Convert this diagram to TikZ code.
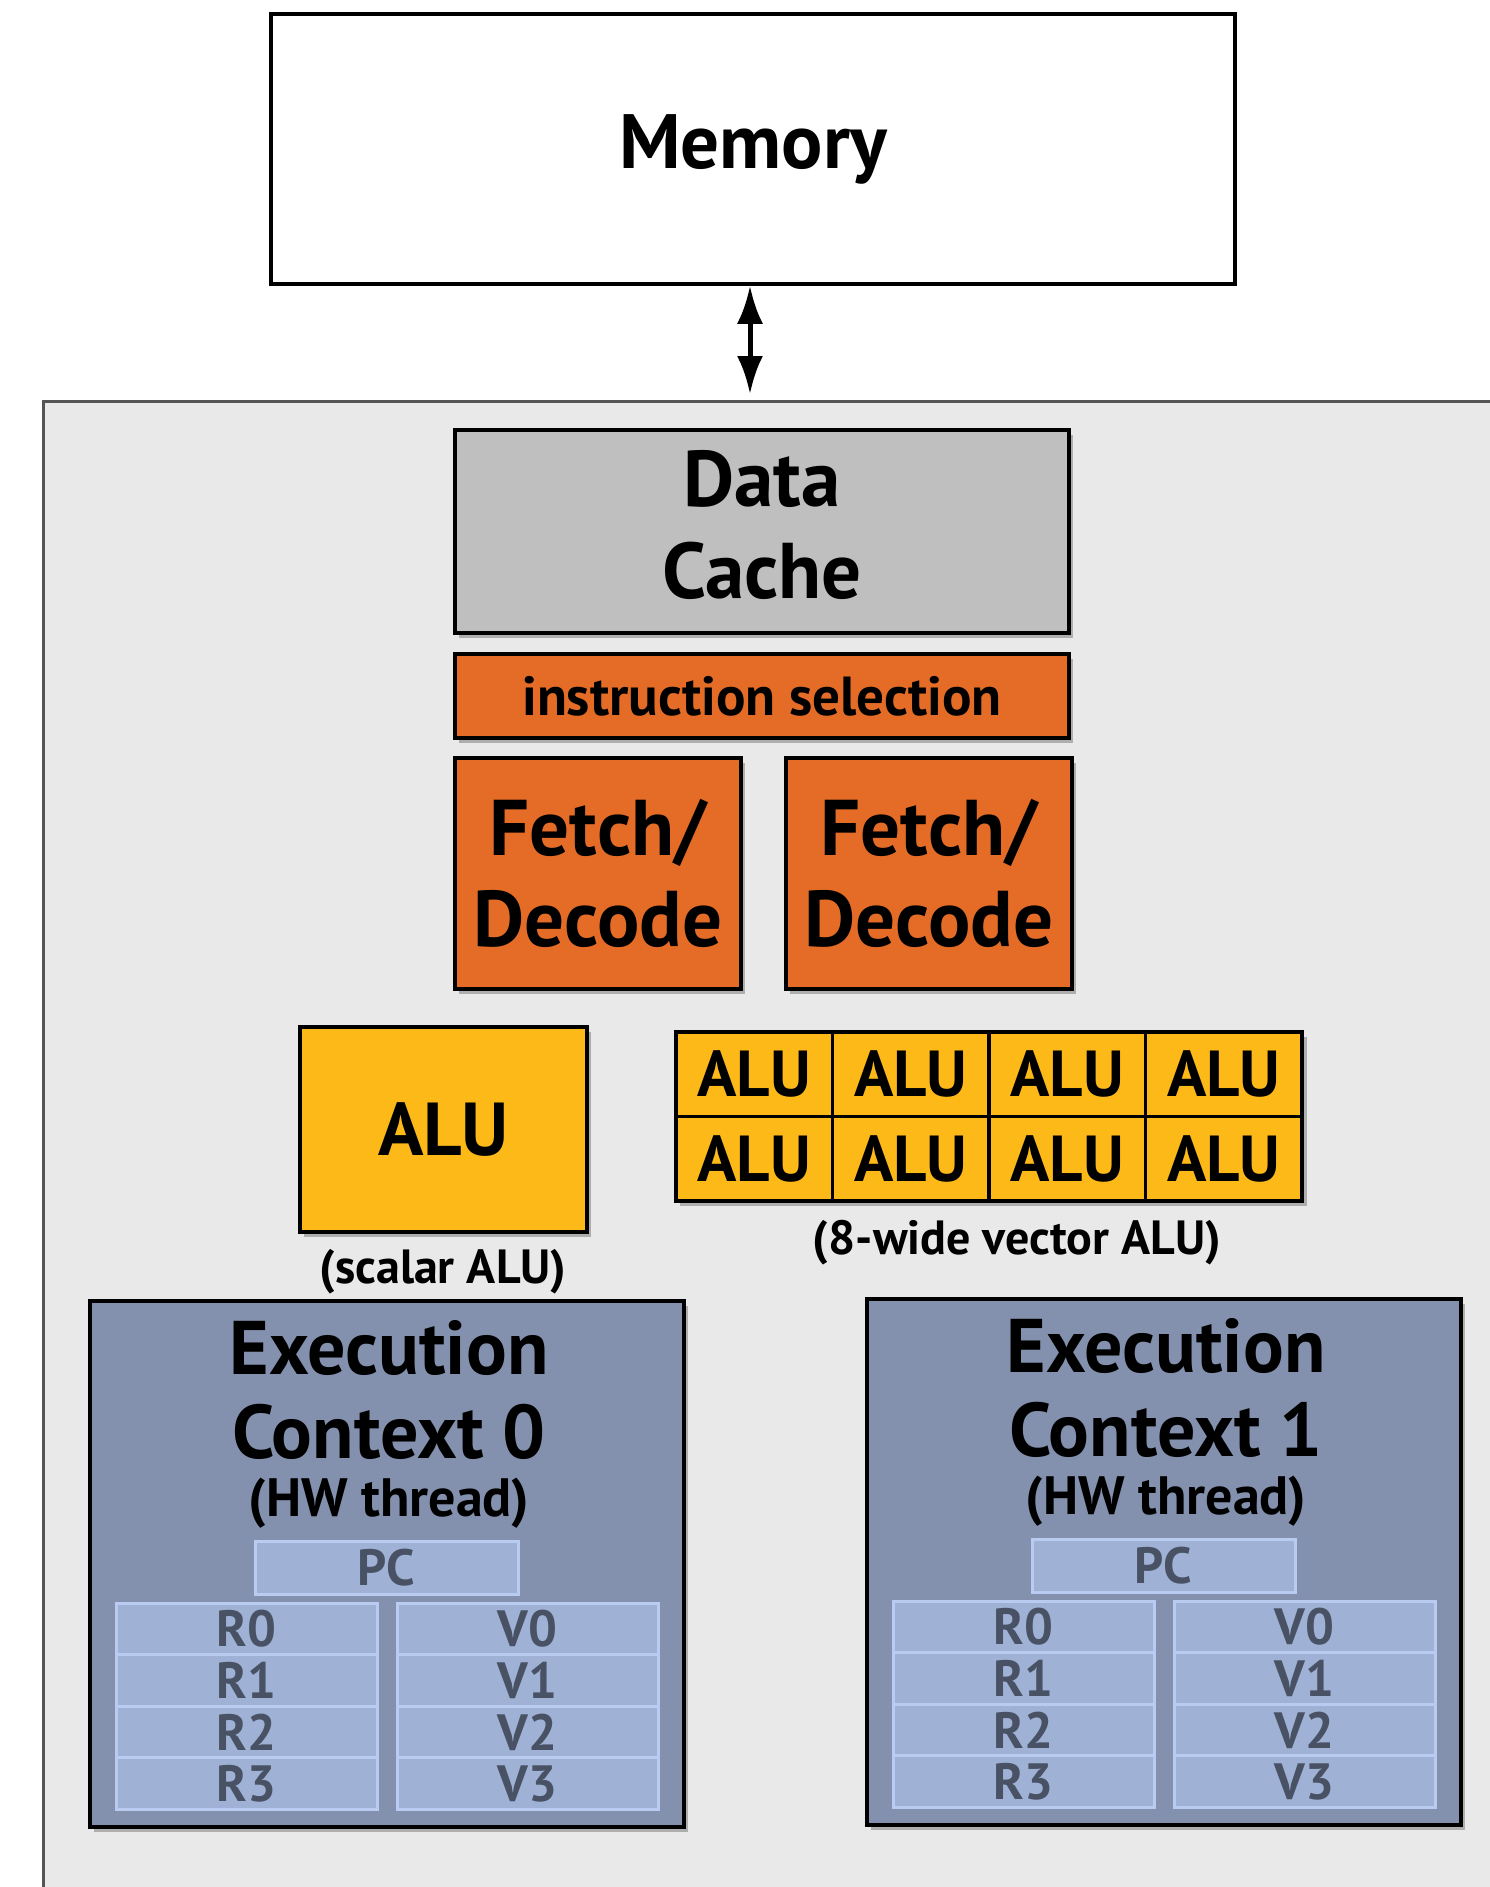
\documentclass[tikz,border=0pt]{standalone}
\usepackage{fontspec}
\setmainfont{PT Sans}
\usetikzlibrary{arrows.meta,shadows}
\definecolor{coregray}{HTML}{E9E9E9}
\definecolor{coreborder}{HTML}{555555}
\definecolor{cachegray}{HTML}{BFBFBF}
\definecolor{orng}{HTML}{E46C26}
\definecolor{yllw}{HTML}{FDB918}
\definecolor{ecfill}{HTML}{8391AE}
\definecolor{regfill}{HTML}{9FB1D5}
\definecolor{regborder}{HTML}{B9CBF1}
\definecolor{regtext}{HTML}{485264}
\tikzset{
  shd/.style={drop shadow={shadow xshift=4pt,shadow yshift=-5pt,opacity=0.25,fill=black}},
  blk/.style={draw=black,line width=3.5pt,inner sep=0pt,align=center,font=\bfseries},
  regbox/.style={draw=regborder,fill=regfill,line width=3pt,inner sep=0pt,text=regtext,font=\bfseries\fontsize{51}{51}\selectfont},
}
\begin{document}
\begin{tikzpicture}[x=1pt,y=-1pt]
\useasboundingbox (0,0) rectangle (1490,1887);
\clip (0,0) rectangle (1490,1887);
\fill[white] (0,0) rectangle (1490,1887);
% core
\node[draw=coreborder,fill=coregray,line width=3pt,minimum width=1500pt,minimum height=1550pt,anchor=north west,inner sep=0pt] (core) at (42,400) {};
% memory
\node[blk,fill=white,minimum width=964pt,minimum height=270pt,font=\bfseries\fontsize{77}{77}\selectfont] (mem) at (753,149) {Memory};
\draw[line width=5pt,{Latex[length=38pt,width=26pt]}-{Latex[length=38pt,width=26pt]}] ([xshift=-3pt]mem.south) -- ([xshift=-3pt,yshift=6pt]mem.south |- core.north);
% data cache
\node[blk,fill=cachegray,shd,minimum width=614pt,minimum height=203pt] (dc) at (762,531.5) {};
\node[font=\bfseries\fontsize{79}{92}\selectfont,align=center,inner sep=0pt] (dct) at (762,525) {Data\\Cache};
% instruction selection
\node[blk,fill=orng,shd,minimum width=614pt,minimum height=84pt,font=\bfseries\fontsize{55}{55}\selectfont] (is) at (762,696) {instruction selection};
% fetch/decode
\node[blk,fill=orng,shd,minimum width=286pt,minimum height=231pt,font=\bfseries\fontsize{79}{91}\selectfont] (fd1) at (598,873.5) {Fetch/\\Decode};
\node[blk,fill=orng,shd,minimum width=286pt,minimum height=231pt,font=\bfseries\fontsize{79}{91}\selectfont] (fd2) at (929,873.5) {Fetch/\\Decode};
% scalar ALU
\node[blk,fill=yllw,shd,minimum width=287pt,minimum height=205pt,font=\bfseries\fontsize{75}{75}\selectfont] (salu) at (443.5,1129.5) {ALU};
\node[font=\bfseries\fontsize{48}{48}\selectfont,inner sep=0pt] (slab) at (443,1272) {(scalar ALU)};
% vector ALU
\fill[black,opacity=0.25] (680,1037) rectangle (1307,1206);
\foreach \c/\cx in {1/754.25,2/910.75,3/1067.25,4/1223.75}{
  \foreach \r/\ry in {1/1074.25,2/1158.75}{
    \node[blk,fill=yllw,minimum width=156.5pt,minimum height=84.5pt,font=\bfseries\fontsize{65}{65}\selectfont] (v\r\c) at (\cx,\ry) {ALU};
  }
}
\node[font=\bfseries\fontsize{48}{48}\selectfont,inner sep=0pt] (vlab) at (1017,1243) {(8-wide vector ALU)};
% execution contexts
\foreach \i/\dx/\dy in {0/0/0,1/777/-2}{
  \begin{scope}[shift={(\dx pt,-\dy pt)}]
    \node[blk,fill=ecfill,shd,minimum width=594pt,minimum height=526pt] (ec\i) at (387,1564) {};
    \node[font=\bfseries\fontsize{76}{76}\selectfont,inner sep=0pt] (ext\i) at (389,1348) {Execution};
    \node[font=\bfseries\fontsize{76}{76}\selectfont,inner sep=0pt] (ctx\i) at (389,1432) {Context \i};
    \node[font=\bfseries\fontsize{54}{54}\selectfont,inner sep=0pt] (hw\i) at (389,1503) {(HW thread)};
    \node[regbox,minimum width=263pt,minimum height=53pt] (pc\i) at (386.5,1567.5) {PC};
    \foreach \k/\ky in {0/1629,1/1680.5,2/1732,3/1783.5}{
      \node[regbox,minimum width=261pt,minimum height=51.5pt] (r\i\k) at (246.5,\ky) {R\k};
      \node[regbox,minimum width=261pt,minimum height=51.5pt] (w\i\k) at (527.5,\ky) {V\k};
    }
  \end{scope}
}
\end{tikzpicture}
\end{document}
